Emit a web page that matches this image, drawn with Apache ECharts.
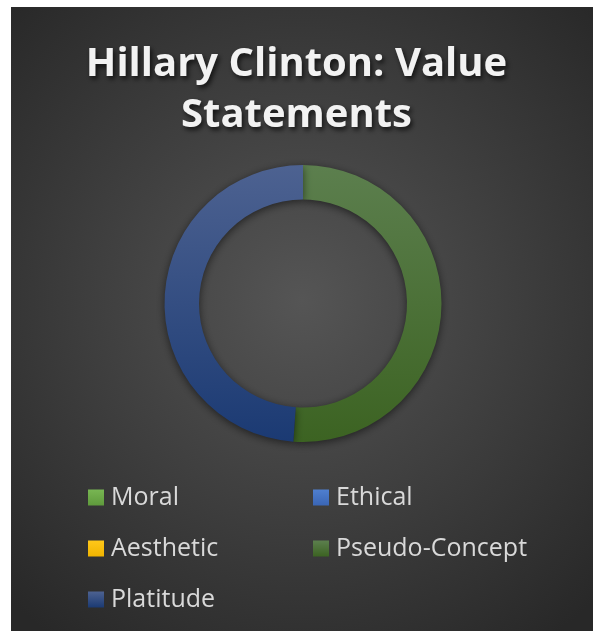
<!DOCTYPE html>
<html>
<head>
<meta charset="utf-8">
<style>
  html, body { margin: 0; padding: 0; background: #ffffff; }
  #chart { width: 593px; height: 631px; }
</style>
<script src="https://cdn.jsdelivr.net/npm/echarts@6/dist/echarts.min.js"></script>
</head>
<body>
<div id="chart"></div>
<script>
// Categories of value statements and how many fall into each
const categories = ['Moral', 'Ethical', 'Aesthetic', 'Pseudo-Concept', 'Platitude'];
const counts = [0, 0, 0, 23, 22];
const chartTitle = 'Hillary Clinton: Value\nStatements';

// Fill per category: [lighter top, darker bottom]
const palette = {
  'Moral': ['#78b653', '#5f9a3c'],
  'Ethical': ['#4f7fd0', '#3a66b5'],
  'Aesthetic': ['#ffc81a', '#f0b400'],
  'Pseudo-Concept': ['#5c7f4e', '#3c6322'],
  'Platitude': ['#4d6291', '#1b3a73']
};

function vGrad(c) {
  return new echarts.graphic.LinearGradient(0, 0, 0, 1, [
    { offset: 0, color: c[0] },
    { offset: 1, color: c[1] }
  ]);
}

const chart = echarts.init(document.getElementById('chart'), null, { renderer: 'canvas' });

chart.setOption({
  backgroundColor: '#ffffff',
  animation: false,
  graphic: [{
    type: 'rect',
    z: -10,
    silent: true,
    shape: { x: 11, y: 7, width: 582, height: 624 },
    style: {
      fill: new echarts.graphic.RadialGradient(0.5, 0.47, 0.72, [
        { offset: 0, color: '#555555' },
        { offset: 1, color: '#282828' }
      ])
    }
  }],
  title: {
    text: chartTitle,
    left: 'center',
    top: 34,
    textStyle: {
      fontFamily: '"Open Sans", sans-serif',
      fontWeight: 'bold',
      fontSize: 40,
      lineHeight: 51,
      color: '#f2f2f2',
      textShadowColor: 'rgba(0,0,0,0.7)',
      textShadowBlur: 5,
      textShadowOffsetX: 2,
      textShadowOffsetY: 3
    }
  },
  legend: {
    data: categories,
    left: 88,
    top: 477,
    width: 450,
    padding: 0,
    orient: 'horizontal',
    icon: 'rect',
    itemWidth: 16,
    itemHeight: 16,
    itemGap: 10,
    selectedMode: false,
    textStyle: {
      fontFamily: '"Open Sans", sans-serif',
      fontSize: 25,
      color: '#d9d9d9',
      width: 192,
      lineHeight: 41,
      padding: [0, 0, 0, 2]
    }
  },
  series: [{
    type: 'pie',
    center: [303, 303.5],
    radius: [104, 138.5],
    startAngle: 90,
    clockwise: true,
    label: { show: false },
    labelLine: { show: false },
    emphasis: { disabled: true },
    itemStyle: {
      borderWidth: 0,
      shadowColor: 'rgba(0,0,0,0.55)',
      shadowBlur: 8,
      shadowOffsetY: 2
    },
    data: categories.map((name, i) => ({
      name: name,
      value: counts[i],
      itemStyle: { color: vGrad(palette[name]) }
    }))
  }]
});
</script>
</body>
</html>
